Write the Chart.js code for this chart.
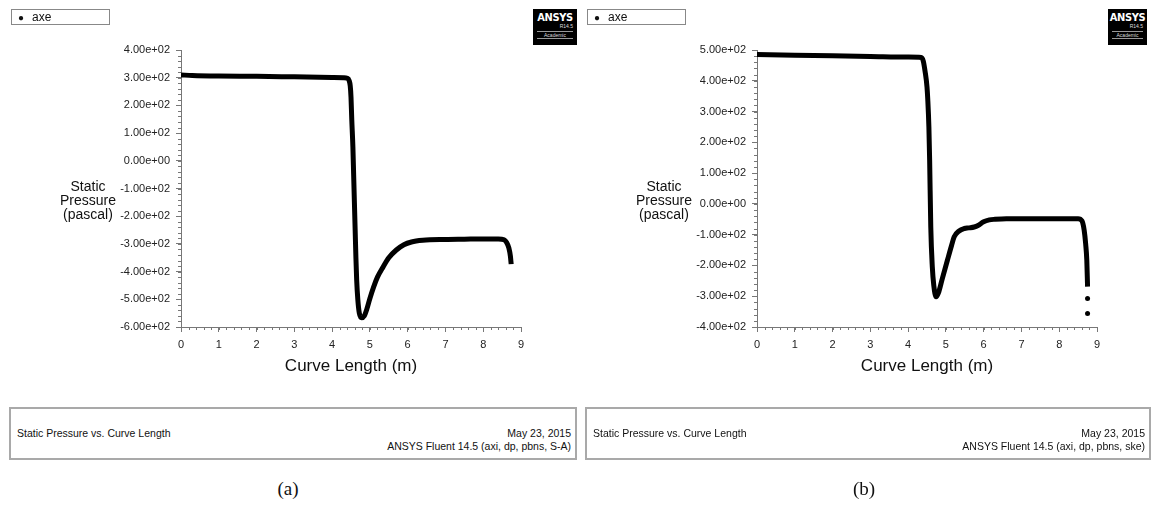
<!DOCTYPE html>
<html>
<head>
<meta charset="utf-8">
<script src="https://cdn.jsdelivr.net/npm/chart.js@4.4.1/dist/chart.umd.min.js"></script>
<style>
  html, body { margin:0; padding:0; background:#fff; }
  body { width:1152px; height:507px; position:relative; overflow:hidden; font-family:"Liberation Sans", Arial, sans-serif; }
  .panel { position:absolute; top:0; width:576px; height:507px; }
  .panel canvas { position:absolute; left:0; top:0; }
  .legend { position:absolute; left:11px; top:9px; width:97px; height:14px; border:1px solid #888; font-size:12px; line-height:14px; color:#111; }
  .legend span { display:inline-block; margin-left:6px; margin-right:8px; font-size:10px; }
  .logo { position:absolute; top:9px; height:36px; background:#000; color:#fff; text-align:center; }
  .logo .a { font:bold 11px "DejaVu Sans Condensed", "Liberation Sans Narrow", sans-serif; letter-spacing:-0.4px; margin-top:3px; line-height:11px; }
  .logo .r { font-size:5px; text-align:right; padding-right:4px; line-height:7px; color:#ddd; }
  .logo .c { font-size:5px; margin:1px 4px 0; border-top:1px solid #999; border-bottom:1px solid #999; line-height:6px; color:#ddd; }
  .ytitle { position:absolute; left:48px; top:179px; width:80px; text-align:center; font-size:14px; line-height:14px; color:#111; }
  .info { position:absolute; top:407px; height:53px; border:2px solid #a9a9a9; box-sizing:border-box; font-size:10.5px; color:#111; }
  .info .t { position:absolute; left:6px; top:18px; }
  .info .d { position:absolute; right:4px; top:18px; text-align:right; line-height:13px; }
  .cap { position:absolute; top:478px; width:100%; text-align:center; font:19px "Liberation Serif", "Times New Roman", serif; color:#111; }
</style>
</head>
<body>
<div class="panel" id="pa" style="left:0">
  <canvas id="chartA" width="576" height="400"></canvas>
  <div class="legend"><span>●</span>axe</div>
  <div class="logo" style="left:533px;width:44px"><div class="a">ANSYS</div><div class="r">R14.5</div><div class="c">Academic</div></div>
  <div class="ytitle">Static<br>Pressure<br>(pascal)</div>
  <div class="info" style="left:9px;width:568px"><div class="t">Static Pressure vs. Curve Length</div><div class="d">May 23, 2015<br>ANSYS Fluent 14.5 (axi, dp, pbns, S-A)</div></div>
  <div class="cap" style="left:0">(a)</div>
</div>
<div class="panel" id="pb" style="left:576px">
  <canvas id="chartB" width="576" height="400"></canvas>
  <div class="legend"><span>●</span>axe</div>
  <div class="logo" style="left:532px;width:39px"><div class="a">ANSYS</div><div class="r">R14.5</div><div class="c">Academic</div></div>
  <div class="ytitle">Static<br>Pressure<br>(pascal)</div>
  <div class="info" style="left:9px;width:566px"><div class="t">Static Pressure vs. Curve Length</div><div class="d">May 23, 2015<br>ANSYS Fluent 14.5 (axi, dp, pbns, ske)</div></div>
  <div class="cap" style="left:0">(b)</div>
</div>
<script>
'use strict';
// curve (a): S-A model
const lenA = [0, 0.3, 1, 2, 3, 4, 4.3, 4.4, 4.45, 4.48, 4.5, 4.52, 4.55, 4.57, 4.59, 4.61, 4.63, 4.65, 4.68, 4.72, 4.78, 4.85, 4.92, 5.0, 5.1, 5.2, 5.35, 5.5, 5.7, 5.9, 6.1, 6.4, 7.0, 7.5, 8.0, 8.4, 8.55, 8.62, 8.68, 8.72, 8.74];
const presA = [310, 308, 306, 305, 303, 301, 300, 298, 290, 270, 230, 150, 50, -50, -150, -250, -350, -430, -500, -550, -567, -560, -535, -497, -455, -420, -383, -350, -322, -303, -293, -287, -284, -283, -282, -282, -285, -295, -315, -345, -373];
// curve (b): k-epsilon model
const lenB = [0, 1, 2, 3, 4, 4.35, 4.4, 4.45, 4.5, 4.52, 4.55, 4.57, 4.6, 4.64, 4.68, 4.74, 4.8, 4.9, 5.04, 5.15, 5.22, 5.35, 5.49, 5.6, 5.75, 5.85, 6.0, 6.15, 6.3, 6.6, 7.0, 7.5, 8.0, 8.5, 8.6, 8.66, 8.7, 8.73, 8.75];
const presB = [485, 483, 481, 479, 477, 476, 465, 430, 380, 340, 250, 142, -75, -204, -265, -302, -290, -245, -183, -135, -107, -88, -80, -78, -75, -70, -58, -52, -50, -48, -48, -48, -48, -48, -55, -85, -130, -183, -269];
const tailLenB = [8.75, 8.75];
const tailPresB = [-307, -356];
const xTicks = [0, 1, 2, 3, 4, 5, 6, 7, 8, 9];

function sci(v) {
  if (v === 0) return '0.00e+00';
  const e = Math.floor(Math.log10(Math.abs(v)) + 1e-9);
  const m = (v / Math.pow(10, e)).toFixed(2);
  return m + 'e' + (e < 0 ? '-' : '+') + String(Math.abs(e)).padStart(2, '0');
}
const pts = (xs, ys) => xs.map((x, i) => ({ x, y: ys[i] }));

const minorTicks = {
  id: 'minorTicks',
  afterDraw(chart) {
    const { ctx, scales: { x, y } } = chart;
    ctx.save();
    ctx.strokeStyle = '#777';
    ctx.lineWidth = 1;
    ctx.beginPath();
    for (let v = x.min; v <= x.max + 1e-9; v += 0.2) {
      const px = Math.round(x.getPixelForValue(v)) + 0.5;
      ctx.moveTo(px, x.top); ctx.lineTo(px, x.top + 3);
    }
    for (let v = y.min; v <= y.max + 1e-9; v += 20) {
      const py = Math.round(y.getPixelForValue(v)) + 0.5;
      ctx.moveTo(y.right, py); ctx.lineTo(y.right - 3, py);
    }
    ctx.stroke();
    ctx.restore();
  }
};

function makeChart(id, datasets, yMin, yMax) {
  const tickFont = { family: 'Liberation Sans', size: 11 };
  return new Chart(document.getElementById(id), {
    type: 'scatter',
    data: { datasets },
    plugins: [minorTicks],
    options: {
      responsive: false, animation: false,
      layout: { padding: { left: 0, right: 55, top: 50, bottom: 0 } },
      plugins: { legend: { display: false }, tooltip: { enabled: false } },
      scales: {
        x: {
          type: 'linear', min: 0, max: 9,
          afterFit: s => { s.height = 73; },
          afterBuildTicks: s => { s.ticks = xTicks.map(v => ({ value: v })); },
          ticks: { color: '#222', font: tickFont, padding: 6, maxRotation: 0 },
          grid: { drawOnChartArea: false, color: '#777', tickLength: 5 },
          border: { color: '#777' },
          title: { display: true, text: 'Curve Length (m)', color: '#111', font: { family: 'Liberation Sans', size: 17 }, padding: { top: 0, bottom: 23 } }
        },
        y: {
          type: 'linear', min: yMin, max: yMax,
          afterFit: s => { s.width = 181; },
          ticks: { stepSize: 100, color: '#222', font: tickFont, padding: 6, callback: v => sci(v) },
          grid: { drawOnChartArea: false, color: '#777', tickLength: 5 },
          border: { color: '#777' }
        }
      }
    }
  });
}

const lineStyle = { showLine: true, borderColor: '#000', borderWidth: 5, pointRadius: 0, cubicInterpolationMode: 'monotone' };

makeChart('chartA', [
  Object.assign({ label: 'axe', data: pts(lenA, presA) }, lineStyle)
], -600, 400);

makeChart('chartB', [
  Object.assign({ label: 'axe', data: pts(lenB, presB) }, lineStyle),
  { label: 'axe', data: pts(tailLenB, tailPresB), showLine: false, pointRadius: 2.5, pointBackgroundColor: '#000', pointBorderWidth: 0 }
], -400, 500);
</script>
</body>
</html>
